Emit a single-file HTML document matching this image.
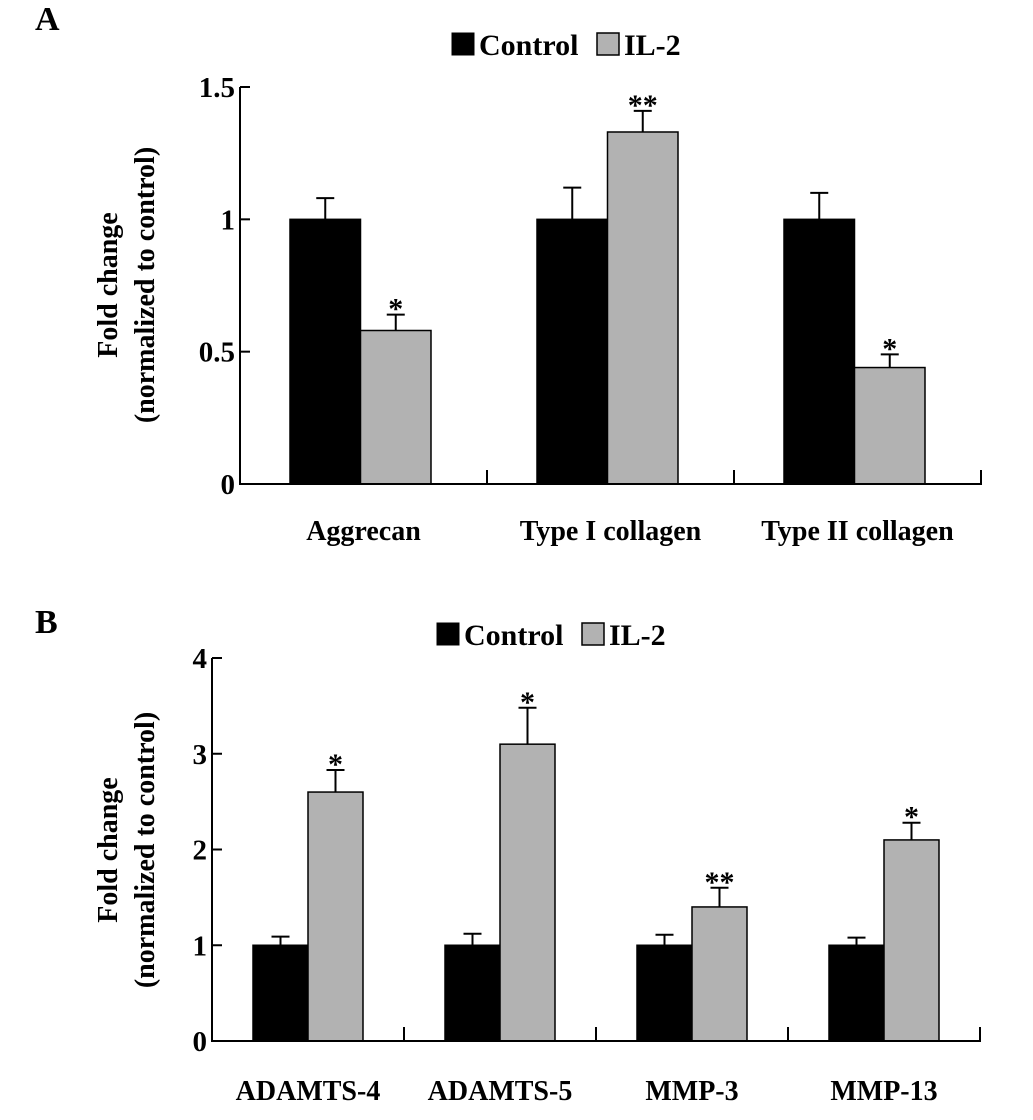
<!DOCTYPE html>
<html><head><meta charset="utf-8"><style>
body{margin:0;background:#fff}
svg{display:block}
text{font-family:"Liberation Serif",serif;font-weight:bold;fill:#000}
</style></head><body>
<svg id="chart" width="1033" height="1120" viewBox="0 0 1033 1120"></svg>
<script>
const catsA = ["Aggrecan", "Type I collagen", "Type II collagen"];
const ctrlA = [1, 1, 1];
const ctrlErrA = [0.08, 0.12, 0.10];
const il2A = [0.58, 1.33, 0.44];
const il2ErrA = [0.06, 0.08, 0.05];
const sigA = ["*", "**", "*"];
const ticksA = [0, 0.5, 1, 1.5];
const tickLabelsA = ["0", "0.5", "1", "1.5"];

const catsB = ["ADAMTS-4", "ADAMTS-5", "MMP-3", "MMP-13"];
const ctrlB = [1, 1, 1, 1];
const ctrlErrB = [0.09, 0.12, 0.11, 0.08];
const il2B = [2.6, 3.1, 1.4, 2.1];
const il2ErrB = [0.23, 0.38, 0.2, 0.18];
const sigB = ["*", "*", "**", "*"];
const ticksB = [0, 1, 2, 3, 4];
const tickLabelsB = ["0", "1", "2", "3", "4"];

const svg = document.getElementById('chart');
const NS = "http://www.w3.org/2000/svg";
function mk(tag, attrs, txt){
  const e = document.createElementNS(NS, tag);
  for (const k in attrs) e.setAttribute(k, attrs[k]);
  if (txt !== undefined) e.textContent = txt;
  svg.appendChild(e);
  return e;
}

function panel(p){
  const y = v => p.y0 - (v / p.yMax) * (p.y0 - p.yTop);
  const n = p.cats.length;
  const xEnd = p.x0 + n * p.gw;
  let t = mk('text', {x: p.letterX, y: p.letterY, 'font-size': 34}, p.letter);
  
  
  for (let i = 0; i < n; i++){
    const gx = p.x0 + i * p.gw + p.off;
    const vals = [p.ctrl[i], p.il2[i]];
    const errs = [p.ctrlErr[i], p.il2Err[i]];
    for (let s = 0; s < 2; s++){
      const bx = gx + s * p.bw;
      const top = vals[s] + errs[s];
      const cx = bx + p.bw / 2;
      let el = mk('line', {x1: cx, x2: cx, y1: y(vals[s]), y2: y(top), stroke: '#000', 'stroke-width': 2});
      
      
      el = mk('line', {x1: cx - 9, x2: cx + 9, y1: y(top), y2: y(top), stroke: '#000', 'stroke-width': 2});
      
      
      el = mk('rect', {x: bx, y: y(vals[s]), width: p.bw, height: y(0) - y(vals[s]), fill: s ? '#b2b2b2' : '#000', stroke: '#000', 'stroke-width': 1.5});
      
      
      if (s === 1){
        el = mk('text', {x: cx, y: y(top) + 4, 'text-anchor': 'middle', 'font-size': 30}, p.sig[i]);
        
        
      }
    }
    const lab = mk('text', {x: p.x0 + (i + 0.5) * p.gw, y: p.catY, 'text-anchor': 'middle', 'font-size': 28}, p.cats[i]);
    
    
    if (i > 0){
      const tk = mk('line', {x1: p.x0 + i * p.gw, x2: p.x0 + i * p.gw, y1: p.y0, y2: p.y0 - 14, stroke: '#000', 'stroke-width': 2});
      
      
    }
  }
  let ax = mk('path', {d: `M${p.x0},${p.yTop} V${p.y0} H${xEnd} V${p.y0 - 14}`, fill: 'none', stroke: '#000', 'stroke-width': 2});
  
  
  p.ticks.forEach((v, k) => {
    let l = mk('line', {x1: p.x0, x2: p.x0 + 10, y1: y(v), y2: y(v), stroke: '#000', 'stroke-width': 2});
    
    
    l = mk('text', {x: p.x0 - 5, y: y(v) + 10, 'text-anchor': 'end', 'font-size': 29}, p.tickLabels[k]);
    
    
  });
  const g = document.createElementNS(NS, 'g');
  g.setAttribute('transform', `translate(${p.titleX},${p.titleY}) rotate(-90)`);
  
  
  svg.appendChild(g);
  ["Fold change", "(normalized to control)"].forEach((s, k) => {
    const tt = document.createElementNS(NS, 'text');
    tt.setAttribute('x', 0); tt.setAttribute('y', k * 37);
    tt.setAttribute('text-anchor', 'middle'); tt.setAttribute('font-size', 28);
    tt.textContent = s;
    g.appendChild(tt);
  });
  const L = p.leg;
  let e = mk('rect', {x: L.x, y: L.y, width: 22, height: 22, fill: '#000', stroke: '#000'});
   
  e = mk('text', {x: L.x + 27, y: L.y + 22, 'font-size': 30}, 'Control');
   
  e = mk('rect', {x: L.x + 145, y: L.y, width: 22, height: 22, fill: '#b2b2b2', stroke: '#000', 'stroke-width': 1.5});
   
  e = mk('text', {x: L.x + 172, y: L.y + 22, 'font-size': 30}, 'IL-2');
   
}

panel({letter: 'A', letterX: 35, letterY: 30, cats: catsA, ctrl: ctrlA, ctrlErr: ctrlErrA, il2: il2A, il2Err: il2ErrA, sig: sigA,
  ticks: ticksA, tickLabels: tickLabelsA, yMax: 1.5, x0: 240, y0: 484, yTop: 87, gw: 247, off: 50, bw: 70.5, catY: 540,
  titleX: 117, titleY: 285, leg: {x: 452, y: 33}});
panel({letter: 'B', letterX: 35, letterY: 633, cats: catsB, ctrl: ctrlB, ctrlErr: ctrlErrB, il2: il2B, il2Err: il2ErrB, sig: sigB,
  ticks: ticksB, tickLabels: tickLabelsB, yMax: 4, x0: 212, y0: 1041, yTop: 658, gw: 192, off: 41, bw: 55, catY: 1100,
  titleX: 117, titleY: 850, leg: {x: 437, y: 623}});
</script>
</body></html>
